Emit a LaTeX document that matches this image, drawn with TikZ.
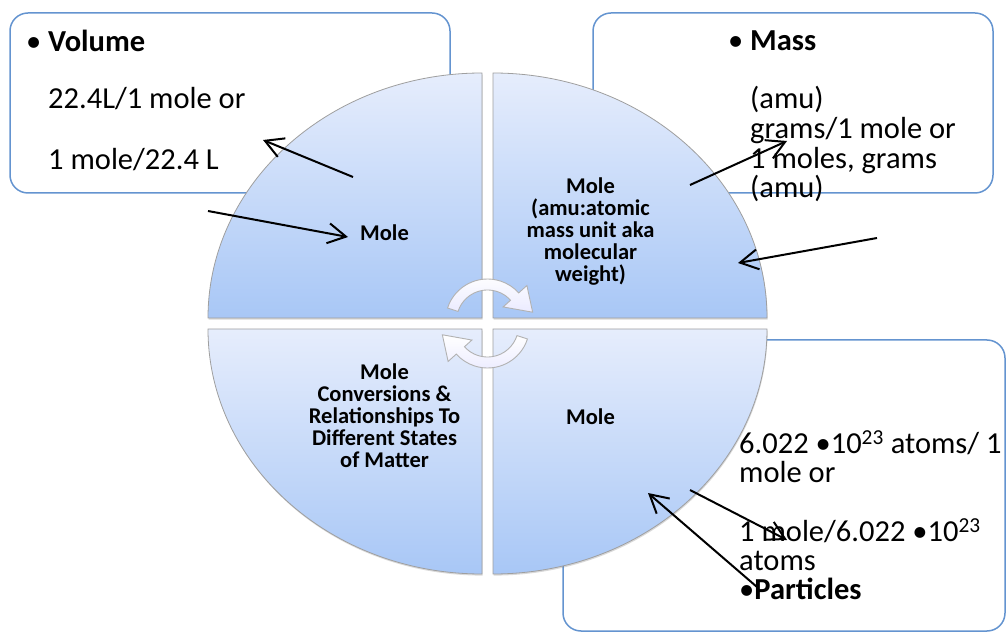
\documentclass[tikz,border=0pt]{standalone}
\usepackage{fontspec}
\setmainfont{Carlito}
\usepackage{tikz}
\usetikzlibrary{arrows.meta,shadows,positioning}
\definecolor{qtop}{RGB}{230,237,252}
\definecolor{qbot}{RGB}{168,199,246}
\definecolor{boxblue}{RGB}{100,148,208}
\tikzstyle{line} = [draw, line width=2pt, -{Straight Barb[length=18pt, width=20pt]}]
\tikzstyle{infobox} = [draw=boxblue, line width=1.5pt, rounded corners=18pt, fill=white]
\tikzstyle{quarter} = [draw=gray!75, line width=0.8pt, top color=qtop, bottom color=qbot, drop shadow={shadow xshift=0.6pt, shadow yshift=-1.6pt, opacity=0.3}]
\tikzstyle{turn} = [draw=gray!60, line width=0.9pt, top color=white, bottom color=blue!8!white]
\tikzstyle{quadtxt} = [font=\bfseries\fontsize{22.5}{22}\selectfont, align=center, node distance=103pt]
\tikzstyle{boxtxt} = [font=\fontsize{30.5}{30}\selectfont, text height=20pt, text depth=6pt, inner sep=0pt, anchor=west]

\begin{document}
\begin{tikzpicture}[x=1pt, y=1pt]
	\useasboundingbox (0,0) rectangle (1006,632);
	
	% boxes behind the circle
	\node [infobox, minimum width=440pt, minimum height=180pt] (volbox) at (230,529) {};
	\node [infobox, minimum width=400pt, minimum height=180pt] (massbox) at (793,529) {};
	\node [infobox, minimum width=442pt, minimum height=291pt] (partbox) at (784,146.5) {};
	
	% the four quarters
	\path [quarter] (482,314) -- (208,314) arc[start angle=180, end angle=90, x radius=274pt, y radius=245pt] -- cycle;
	\path [quarter] (493,314) -- (493,559) arc[start angle=90, end angle=0, x radius=274pt, y radius=245pt] -- cycle;
	\path [quarter] (482,303) -- (482,58) arc[start angle=270, end angle=180, x radius=274pt, y radius=245pt] -- cycle;
	\path [quarter] (493,303) -- (767,303) arc[start angle=0, end angle=-90, x radius=274pt, y radius=245pt] -- cycle;
	
	\coordinate (hub) at (487.5,308.5);
	
	% turning arrows
	\begin{scope}[shift={(487.5,311)}]
	\path [turn] (162:31pt) -- (162:42pt) arc[start angle=162, end angle=42, radius=42pt] -- (42:53pt) -- (11:46pt) -- (42:21pt) -- (42:31pt) arc[start angle=42, end angle=162, radius=31pt] -- cycle;
	\end{scope}
	\begin{scope}[shift={(487.5,306)}, rotate=180]
	\path [turn] (162:31pt) -- (162:42pt) arc[start angle=162, end angle=42, radius=42pt] -- (42:53pt) -- (11:46pt) -- (42:21pt) -- (42:31pt) arc[start angle=42, end angle=162, radius=31pt] -- cycle;
	\end{scope}
	
	\node [quadtxt, left of=hub, yshift=91pt] (moletl) {Mole};
	\node [quadtxt, right of=hub, yshift=91.5pt] (moletr) {Mole\\(amu:atomic\\mass unit aka\\molecular\\weight)};
	\node [quadtxt, left of=hub, yshift=-92.5pt] (molebl) {Mole\\Conversions \&\\Relationships To\\Different States\\of Matter};
	\node [quadtxt, right of=hub, yshift=-93.5pt] (molebr) {Mole};
	
	% volume
	\node [boxtxt] (vol1) at (48,587) {\llap{• }\textbf{Volume}};
	\node [boxtxt, below=57pt of vol1.west, anchor=west] (vol2) {22.4L/1 mole or};
	\node [boxtxt, below=61pt of vol2.west, anchor=west] (vol3) {1 mole/22.4 L};
	
	% mass
	\node [boxtxt] (mass1) at (750,588) {\llap{• }\textbf{Mass}};
	\node [boxtxt, below=58pt of mass1.west, anchor=west] (mass2) {(amu)};
	\node [boxtxt, below=30pt of mass2.west, anchor=west] (mass3) {grams/1 mole or};
	\node [boxtxt, below=30pt of mass3.west, anchor=west] (mass4) {1 moles, grams};
	\node [boxtxt, below=28.5pt of mass4.west, anchor=west] (mass5) {(amu)};
	
	% particles
	\node [boxtxt] (part1) at (739,185) {6.022 •10\textsuperscript{23} atoms/ 1};
	\node [boxtxt, below=28.5pt of part1.west, anchor=west] (part2) {mole or};
	\node [boxtxt, below=59pt of part2.west, anchor=west] (part3) {1 mole/6.022 •10\textsuperscript{23}};
	\node [boxtxt, below=29pt of part3.west, anchor=west] (part4) {atoms};
	\node [boxtxt, below=29pt of part4.west, anchor=west] (part5) {•\textbf{Particles}};
	
	% arrows
	\coordinate (a1s) at (353,455);
	\coordinate (a1e) at (263,492);
	\coordinate (a2s) at (208,421);
	\coordinate (a2e) at (348,395);
	\coordinate (a3s) at (690,447);
	\coordinate (a3e) at (787,491);
	\coordinate (a4s) at (877,394);
	\coordinate (a4e) at (738,369);
	\coordinate (a5s) at (690,142);
	\coordinate (a5e) at (787,92);
	\coordinate (a6s) at (757,45);
	\coordinate (a6e) at (648,139);
	\path [line] (a1s) to (a1e);
	\path [line] (a2s) to (a2e);
	\path [line] (a3s) to (a3e);
	\path [line] (a4s) to (a4e);
	\path [line] (a5s) to (a5e);
	\path [line] (a6s) to (a6e);
\end{tikzpicture}
\end{document}
